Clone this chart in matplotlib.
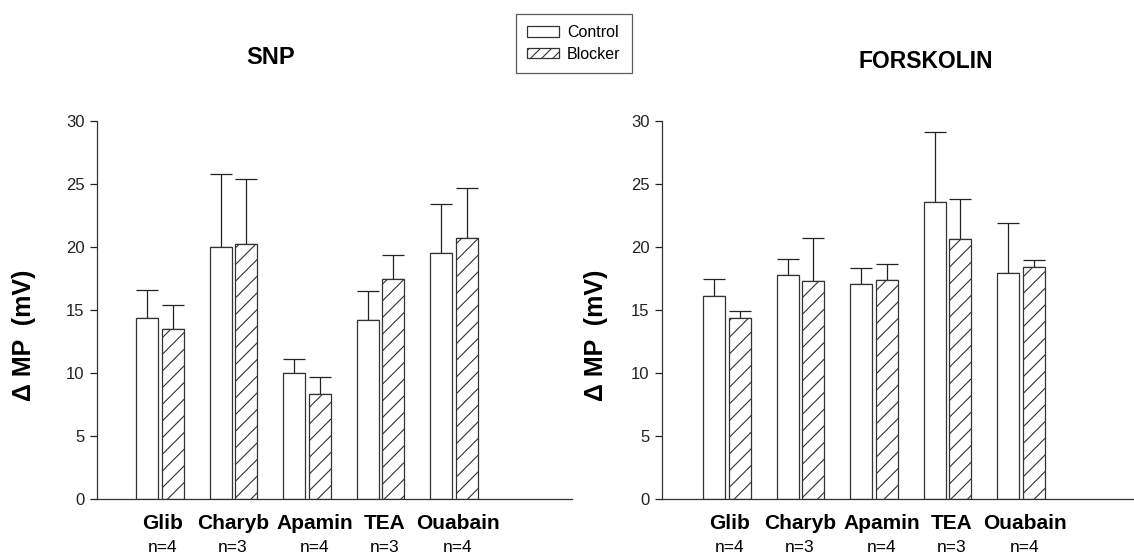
import matplotlib
matplotlib.use("Agg")
import matplotlib.pyplot as plt
from matplotlib.patches import Patch
import numpy as np

plt.rcParams['font.family'] = ['Liberation Sans', 'DejaVu Sans']
plt.rcParams['hatch.linewidth'] = 0.8

categories = ["Glib", "Charyb", "Apamin", "TEA", "Ouabain"]
n_labels = ["n=4", "n=3", "n=4", "n=3", "n=4"]

snp_control = [14.4, 20.0, 10.0, 14.2, 19.5]
snp_control_err = [2.2, 5.8, 1.1, 2.3, 3.9]
snp_blocker = [13.5, 20.2, 8.3, 17.5, 20.75]
snp_blocker_err = [1.9, 5.2, 1.4, 1.9, 3.9]

fsk_control = [16.1, 17.8, 17.1, 23.6, 17.9]
fsk_control_err = [1.35, 1.25, 1.2, 5.5, 4.0]
fsk_blocker = [14.35, 17.3, 17.4, 20.6, 18.45]
fsk_blocker_err = [0.6, 3.4, 1.25, 3.2, 0.5]

W, H = 1134, 556
fig = plt.figure(figsize=(W / 100, H / 100), dpi=100)

def px_axes(x0, x1, y_top, y_bot):
    return fig.add_axes([x0 / W, (H - y_bot) / H, (x1 - x0) / W, (y_bot - y_top) / H])

edge = '#333333'
label_nudge = [0.03, -0.01, 0.11, 0.05, 0.05]

def draw_panel(ax, ctrl, ctrl_err, blk, blk_err, title, xlim, title_xy, title_size):
    x = np.arange(len(categories))
    bw = 0.30
    off = 0.172
    ax.bar(x - off, ctrl, bw, color='white', edgecolor=edge, linewidth=0.9, zorder=2)
    ax.bar(x + off, blk, bw, color='white', edgecolor=edge, linewidth=0.9, hatch='//', zorder=2)
    ax.errorbar(x - off, ctrl, yerr=[np.zeros(len(ctrl)), ctrl_err], fmt='none',
                ecolor='#222222', elinewidth=0.9, capsize=8, capthick=0.9, zorder=1)
    ax.errorbar(x + off, blk, yerr=[np.zeros(len(blk)), blk_err], fmt='none',
                ecolor='#222222', elinewidth=0.9, capsize=8, capthick=0.9, zorder=1)
    ax.set_xlim(*xlim)
    ax.set_ylim(0, 30)
    ax.set_yticks(np.arange(0, 31, 5))
    ax.set_xticks([])
    ax.tick_params(axis='y', direction='out', length=5, width=0.9, colors='#222222',
                   labelsize=12, pad=4)
    for s in ['top', 'right']:
        ax.spines[s].set_visible(False)
    for s in ['left', 'bottom']:
        ax.spines[s].set_linewidth(0.9)
        ax.spines[s].set_color('#333333')
    tr = ax.get_xaxis_transform()
    for i, (c, n) in enumerate(zip(categories, n_labels)):
        ax.text(i + label_nudge[i], -0.066, c, transform=tr, ha='center', va='center',
                fontsize=15, fontweight='bold')
        ax.text(i + label_nudge[i], -0.128, n, transform=tr, ha='center', va='center',
                fontsize=12.5)
    fig.text(title_xy[0] / W, 1 - title_xy[1] / H, title, ha='center', va='center',
             fontsize=title_size, fontweight='bold')

axL = px_axes(97, 572, 121, 499)
draw_panel(axL, snp_control, snp_control_err, snp_blocker, snp_blocker_err, "SNP",
           ((97 - 160) / 73.5, (572 - 160) / 73.5), (271, 57), 17)
axR = px_axes(662, 1134, 121, 499)
draw_panel(axR, fsk_control, fsk_control_err, fsk_blocker, fsk_blocker_err, "FORSKOLIN",
           ((662 - 727) / 73.5, (1134 - 727) / 73.5), (926, 61), 16.5)

fig.text(24 / W, 1 - 335 / H, "\u0394 MP  (mV)", rotation=90, ha='center', va='center',
         fontsize=18, fontweight='bold')
fig.text(596 / W, 1 - 335 / H, "\u0394 MP  (mV)", rotation=90, ha='center', va='center',
         fontsize=18, fontweight='bold')

handles = [Patch(facecolor='white', edgecolor=edge, linewidth=0.9, label='Control'),
           Patch(facecolor='white', edgecolor=edge, linewidth=0.9, hatch='///', label='Blocker')]
leg = fig.legend(handles=handles, loc='upper left',
                 bbox_to_anchor=(516 / W, 1 - 14 / H), fontsize=11.5,
                 frameon=True, fancybox=False, edgecolor='#333333',
                 handlelength=2.0, handleheight=0.6, handletextpad=0.5,
                 borderpad=0.7, labelspacing=0.4, borderaxespad=0)
leg.get_frame().set_linewidth(0.9)

fig.savefig("out.png", dpi=100)
